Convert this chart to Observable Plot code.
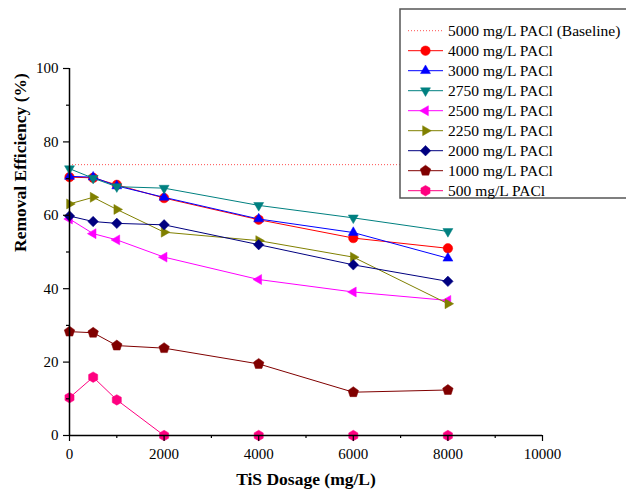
<!DOCTYPE html>
<html><head><meta charset="utf-8">
<script src="https://cdn.jsdelivr.net/npm/d3@7"></script>
<script src="https://cdn.jsdelivr.net/npm/@observablehq/plot@0.6"></script>
<style>
body{margin:0;background:#fff;overflow:hidden}
#wrap{position:relative;width:626px;height:495px;overflow:hidden;background:#fff}
</style></head><body><div id="wrap"></div>
<script>
// ---- data ----
const dosage = [0, 500, 1000, 2000, 4000, 6000, 8000];
const seriesLabels = ["4000 mg/L PACl","3000 mg/L PACl","2750 mg/L PACl","2500 mg/L PACl","2250 mg/L PACl","2000 mg/L PACl","1000 mg/L PACl","500 mg/L PACl"];
const pacl4000 = [70.4, 70.2, 68.3, 64.7, 58.8, 53.8, 51.0];
const pacl3000 = [70.6, 70.4, 68.0, 64.9, 59.0, 55.3, 48.3];
const pacl2750 = [72.7, 70.1, 67.8, 67.4, 62.7, 59.3, 55.6];
const pacl2500 = [59.0, 55.0, 53.3, 48.6, 42.5, 39.1, 36.8];
const pacl2250 = [63.1, 64.9, 61.6, 55.4, 53.1, 48.6, 35.9];
const pacl2000 = [59.8, 58.3, 57.8, 57.4, 52.0, 46.5, 42.0];
const pacl1000 = [28.3, 28.0, 24.5, 23.8, 19.5, 11.8, 12.4];
const pacl500  = [10.3, 15.9, 9.7, 0, 0, 0, 0];
const baseline = 73.8;
const baselineLabel = "5000 mg/L PACl (Baseline)";
const xTicks = [0, 2000, 4000, 6000, 8000, 10000];
const xMinor = [1000, 3000, 5000, 7000, 9000];
const yTicks = [0, 20, 40, 60, 80, 100];
const yMinor = [10, 30, 50, 70, 90];
const xTitle = "TiS Dosage (mg/L)";
const yTitle = "Removal Efficiency (%)";

// ---- styles ----
function poly(n, rot, scale) {
  return {draw(ctx, size) {
    const R = Math.sqrt(size / Math.PI) * scale;
    for (let i = 0; i < n; i++) {
      const a = rot + i * 2 * Math.PI / n;
      const x = R * Math.cos(a), y = R * Math.sin(a);
      if (i) ctx.lineTo(x, y); else ctx.moveTo(x, y);
    }
    ctx.closePath();
  }};
}
const circleSym = {draw(ctx, size){ const r = Math.sqrt(size/Math.PI)*0.95; ctx.moveTo(r,0); ctx.arc(0,0,r,0,2*Math.PI); }};
const styles = [
  {color:"#ff0000", symbol: circleSym},
  {color:"#0000ff", symbol: poly(3, -Math.PI/2, 1.15)},
  {color:"#008080", symbol: poly(3, Math.PI/2, 1.15)},
  {color:"#ff00ff", symbol: poly(3, Math.PI, 1.15)},
  {color:"#808000", symbol: poly(3, 0, 1.15)},
  {color:"#000080", symbol: poly(4, 0, 1.05)},
  {color:"#800000", symbol: poly(5, -Math.PI/2, 1.1)},
  {color:"#ff0080", symbol: poly(6, -Math.PI/2, 1.05)}
];
const seriesValues = [pacl4000, pacl3000, pacl2750, pacl2500, pacl2250, pacl2000, pacl1000, pacl500];

const seriesMarks = seriesValues.flatMap((vals, i) => {
  const rows = dosage.map((d, j) => ({x: d, y: vals[j]}));
  return [
    Plot.line(rows, {x: "x", y: "y", stroke: styles[i].color, strokeWidth: 1}),
    Plot.dot(rows, {x: "x", y: "y", r: 5, symbol: styles[i].symbol, fill: styles[i].color, stroke: styles[i].color, strokeWidth: 0.5})
  ];
});

const chart = Plot.plot({
  width: 626, height: 495,
  marginLeft: 69, marginRight: 84, marginTop: 68, marginBottom: 60,
  style: {fontFamily: "'Liberation Serif', 'Times New Roman', serif", fontSize: "15px", color: "#000", background: "#fff", overflow: "visible"},
  x: {domain: [0, 10000]},
  y: {domain: [0, 100]},
  marks: [
    Plot.ruleY([baseline], {stroke: "#ff5050", strokeWidth: 1, strokeDasharray: "1,2"}),
    ...seriesMarks,
    Plot.axisY({ticks: yMinor, tickSize: 3, tickFormat: () => "", label: null, strokeWidth: 1.2}),
    Plot.axisY({ticks: yTicks, tickSize: 6, tickPadding: 5, label: null, strokeWidth: 1.2, fontSize: 15}),
    Plot.axisX({ticks: xMinor, tickSize: 3, tickFormat: () => "", label: null, strokeWidth: 1.2}),
    Plot.axisX({ticks: xTicks, tickSize: 6, tickPadding: 7, label: null, strokeWidth: 1.2, fontSize: 15, tickFormat: d => String(d)}),
    Plot.ruleX([0], {stroke: "#000", strokeWidth: 1.5}),
    Plot.ruleY([0], {stroke: "#000", strokeWidth: 1.5}),
    Plot.text([yTitle], {text: d => d, frameAnchor: "left", dx: -49, rotate: -90, fontWeight: "bold", fontSize: 17.5}),
    Plot.text([xTitle], {text: d => d, frameAnchor: "bottom", dy: 49, fontWeight: "bold", fontSize: 17.5})
  ]
});
const wrap = document.getElementById("wrap");
chart.style.position = "absolute"; chart.style.left = "0px"; chart.style.top = "0px";
wrap.appendChild(chart);

// ---- legend ----
const leg = d3.create("svg").attr("width", 240).attr("height", 200)
  .style("position", "absolute").style("left", "399px").style("top", "8px")
  .style("font-family", "'Liberation Serif', 'Times New Roman', serif").style("font-size", "15.5px");
leg.append("rect").attr("x", 1).attr("y", 1).attr("width", 300).attr("height", 189)
  .attr("fill", "#fff").attr("stroke", "#555").attr("stroke-width", 1.5);
const rowY = i => 22.7 + 20 * i;
const items = [{label: baselineLabel, base: true}, ...seriesLabels.map((l, i) => ({label: l, i}))];
items.forEach((it, k) => {
  const g = leg.append("g").attr("transform", `translate(0,${rowY(k)})`);
  if (it.base) {
    g.append("line").attr("x1", 9).attr("x2", 44).attr("stroke", "#ff5050").attr("stroke-dasharray", "1,2");
  } else {
    const st = styles[it.i];
    g.append("line").attr("x1", 9).attr("x2", 44).attr("stroke", st.color);
    g.append("path").attr("transform", "translate(26.5,0)")
      .attr("d", d3.symbol().type(st.symbol).size(25 * Math.PI)())
      .attr("fill", st.color).attr("stroke", st.color).attr("stroke-width", 0.5);
  }
  g.append("text").attr("x", 49).attr("dy", "0.35em").text(it.label);
});
wrap.appendChild(leg.node());
</script></body></html>
